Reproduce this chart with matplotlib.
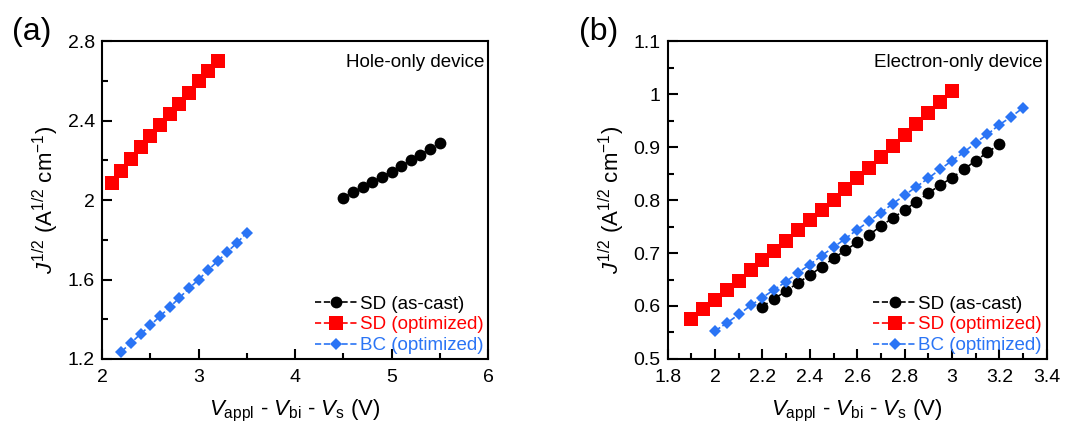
import numpy as np
import matplotlib
matplotlib.use('Agg')
import matplotlib.pyplot as plt
from matplotlib.ticker import MultipleLocator

plt.rcParams['font.family'] = ['Liberation Sans', 'DejaVu Sans']
plt.rcParams['mathtext.fontset'] = 'custom'
plt.rcParams['mathtext.rm'] = 'Liberation Sans'
plt.rcParams['mathtext.it'] = 'Liberation Sans:italic'

# (a) hole-only device
a_sd_cast_x = [4.5, 4.6, 4.7, 4.8, 4.9, 5.0, 5.1, 5.2, 5.3, 5.4, 5.5]
a_sd_cast_y = [2.011, 2.041, 2.066, 2.091, 2.118, 2.143, 2.173, 2.199, 2.229, 2.257, 2.286]
a_sd_opt_x = [2.1, 2.2, 2.3, 2.4, 2.5, 2.6, 2.7, 2.8, 2.9, 3.0, 3.1, 3.2]
a_sd_opt_y = [2.088, 2.147, 2.205, 2.267, 2.321, 2.375, 2.431, 2.485, 2.54, 2.597, 2.651, 2.70]
a_bc_opt_x = [2.2, 2.3, 2.4, 2.5, 2.6, 2.7, 2.8, 2.9, 3.0, 3.1, 3.2, 3.3, 3.4, 3.5]
a_bc_opt_y = [1.237, 1.281, 1.326, 1.369, 1.415, 1.46, 1.507, 1.555, 1.599, 1.648, 1.693, 1.74, 1.785, 1.835]

# (b) electron-only device
b_sd_cast_x = [2.2, 2.25, 2.3, 2.35, 2.4, 2.45, 2.5, 2.55, 2.6, 2.65, 2.7,
               2.75, 2.8, 2.85, 2.9, 2.95, 3.0, 3.05, 3.1, 3.15, 3.2]
b_sd_cast_y = [0.599, 0.614, 0.628, 0.644, 0.658, 0.674, 0.690, 0.705, 0.720, 0.734, 0.751,
               0.766, 0.781, 0.797, 0.813, 0.828, 0.842, 0.858, 0.874, 0.890, 0.905]
b_sd_opt_x = [1.9, 1.95, 2.0, 2.05, 2.1, 2.15, 2.2, 2.25, 2.3, 2.35, 2.4, 2.45,
              2.5, 2.55, 2.6, 2.65, 2.7, 2.75, 2.8, 2.85, 2.9, 2.95, 3.0]
b_sd_opt_y = [0.576, 0.594, 0.612, 0.631, 0.648, 0.668, 0.687, 0.704, 0.723, 0.743, 0.762, 0.781,
              0.800, 0.820, 0.841, 0.860, 0.882, 0.901, 0.923, 0.943, 0.964, 0.985, 1.006]
b_bc_opt_x = [2.0, 2.05, 2.1, 2.15, 2.2, 2.25, 2.3, 2.35, 2.4, 2.45, 2.5, 2.55, 2.6, 2.65,
              2.7, 2.75, 2.8, 2.85, 2.9, 2.95, 3.0, 3.05, 3.1, 3.15, 3.2, 3.25, 3.3]
b_bc_opt_y = [0.553, 0.568, 0.584, 0.601, 0.616, 0.631, 0.646, 0.663, 0.678, 0.695, 0.711, 0.727, 0.744, 0.760,
              0.776, 0.793, 0.809, 0.825, 0.841, 0.858, 0.874, 0.890, 0.908, 0.924, 0.942, 0.957, 0.974]

labels = ['SD (as-cast)', 'SD (optimized)', 'BC (optimized)']
colors = ['black', '#ff0000', '#2a74f5']
markers = ['o', 's', 'D']
msizes = [8.5, 10.0, 6.5]

fig = plt.figure(figsize=(10.91, 4.32), dpi=100)
ax1 = fig.add_axes([0.0935, 0.169, 0.3538, 0.736])
ax2 = fig.add_axes([0.612, 0.169, 0.3474, 0.736])

panels = [
    (ax1, [(a_sd_cast_x, a_sd_cast_y), (a_sd_opt_x, a_sd_opt_y), (a_bc_opt_x, a_bc_opt_y)],
     (2, 6), (1.2, 2.8), 1, 0.5, 0.4, 0.2, 'Hole-only device', '(a)'),
    (ax2, [(b_sd_cast_x, b_sd_cast_y), (b_sd_opt_x, b_sd_opt_y), (b_bc_opt_x, b_bc_opt_y)],
     (1.8, 3.4), (0.5, 1.1), 0.2, 0.1, 0.1, 0.05, 'Electron-only device', '(b)'),
]

for ax, series, xl, yl, xmaj, xmin, ymaj, ymin, note, tag in panels:
    for (x, y), lab, c, m, ms in zip(series, labels, colors, markers, msizes):
        ax.plot(x, y, linestyle='--', color=c, marker=m, markersize=ms,
                markeredgewidth=0, linewidth=1.2, label=lab)
    ax.set_xlim(*xl)
    ax.set_ylim(*yl)
    ax.xaxis.set_major_locator(MultipleLocator(xmaj))
    ax.xaxis.set_minor_locator(MultipleLocator(xmin))
    ax.yaxis.set_major_locator(MultipleLocator(ymaj))
    ax.yaxis.set_minor_locator(MultipleLocator(ymin))
    ax.xaxis.set_major_formatter(plt.FuncFormatter(lambda v, p: f'{v:g}'))
    ax.yaxis.set_major_formatter(plt.FuncFormatter(lambda v, p: f'{v:g}'))
    ax.tick_params(which='both', direction='in', labelsize=14, width=1.5)
    ax.tick_params(which='major', length=7)
    ax.tick_params(which='minor', length=4)
    ax.tick_params(axis='x', which='major', pad=7)
    ax.tick_params(axis='y', which='major', pad=5)
    for s in ax.spines.values():
        s.set_linewidth(1.5)
    ax.set_xlabel(r'$V_{\mathrm{appl}}$ - $V_{\mathrm{bi}}$ - $V_{\mathrm{s}}$ (V)', fontsize=16, labelpad=9)
    ax.set_ylabel(r'$J^{1/2}$ (A$^{1/2}$ cm$^{-1}$)', fontsize=16, labelpad=5)
    ax.text(0.99, 0.96, note, transform=ax.transAxes, ha='right', va='top', fontsize=13.5)
    ax.text(-0.233, 1.028, tag, transform=ax.transAxes, ha='left', va='center', fontsize=23)
    leg = ax.legend(loc='lower right', frameon=False, fontsize=13.5, handlelength=2.3,
                    handletextpad=0.1, borderaxespad=0.05, labelspacing=0.2, borderpad=0.2)
    for t, c in zip(leg.get_texts(), colors):
        t.set_color(c)

fig.savefig('out.png', dpi=100)
